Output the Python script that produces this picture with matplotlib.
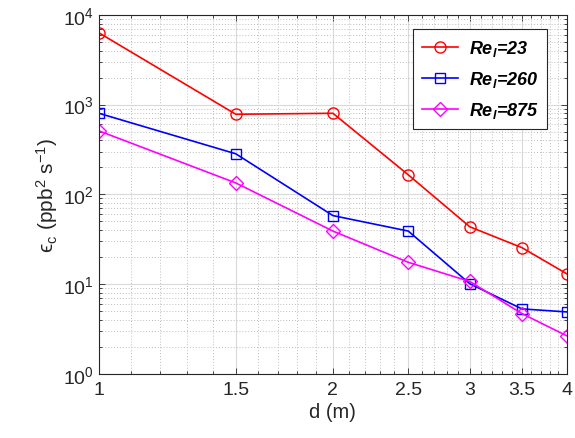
import matplotlib.pyplot as plt
from matplotlib.ticker import FixedLocator, NullFormatter, LogLocator

plt.rcParams['font.family'] = ['Liberation Sans', 'DejaVu Sans']
plt.rcParams['mathtext.fontset'] = 'custom'
plt.rcParams['mathtext.rm'] = 'Liberation Sans'
plt.rcParams['mathtext.it'] = 'Liberation Sans:italic:bold'
plt.rcParams['mathtext.bf'] = 'Liberation Sans:bold'

d = [1, 1.5, 2, 2.5, 3, 3.5, 4]
eps_23 = [6300, 780, 800, 165, 43.5, 25.5, 13]
eps_260 = [800, 283, 58, 39, 10.1, 5.3, 4.9]
eps_875 = [510, 134, 39, 17.5, 10.7, 4.7, 2.65]
labels = ["$Re_l$=23", "$Re_l$=260", "$Re_l$=875"]
xticks = [1, 1.5, 2, 2.5, 3, 3.5, 4]
xtick_labels = ["1", "1.5", "2", "2.5", "3", "3.5", "4"]


def main():
    fig = plt.figure(figsize=(5.75, 4.39), dpi=100)
    ax = fig.add_axes([0.172, 0.146, 0.814, 0.818])

    ax.plot(d, eps_23, color="red", marker="o", mfc="none", ms=8, lw=1.2,
            label=labels[0])
    ax.plot(d, eps_260, color="blue", marker="s", mfc="none", ms=6.5, lw=1.2,
            label=labels[1])
    ax.plot(d, eps_875, color="magenta", marker="D", mfc="none", ms=7, lw=1.2,
            label=labels[2])

    ax.set_xscale("log")
    ax.set_yscale("log")
    ax.set_xlim(1, 4)
    ax.set_ylim(1, 1e4)

    ax.xaxis.set_major_locator(FixedLocator(xticks))
    ax.set_xticklabels(xtick_labels)
    minors = [round(1 + 0.1 * i, 1) for i in range(31)]
    minors = [m for m in minors if m not in xticks]
    ax.xaxis.set_minor_locator(FixedLocator(minors))
    ax.xaxis.set_minor_formatter(NullFormatter())
    ax.yaxis.set_major_locator(LogLocator(base=10, numticks=10))
    ax.yaxis.set_minor_locator(LogLocator(base=10, subs=range(2, 10), numticks=10))
    ax.yaxis.set_minor_formatter(NullFormatter())

    ax.grid(True, which="major", color="#dadada", lw=0.8, ls="-")
    ax.grid(True, which="minor", color="#bdbdbd", lw=0.7, ls=(0, (1, 2)))
    ax.set_axisbelow(True)

    ax.tick_params(which="both", direction="in", top=True, right=True,
                   labelsize=14, colors="#262626", width=0.6)
    ax.tick_params(which="major", length=4)
    ax.tick_params(which="minor", length=2.5)
    ax.tick_params(axis="x", pad=5)
    for s in ax.spines.values():
        s.set_color("#262626")
        s.set_linewidth(0.8)

    ax.set_xlabel("d (m)", fontsize=14.5, color="#262626", labelpad=3)
    ax.set_ylabel(r"ϵ$_{\mathrm{c}}$ (ppb$^{\mathrm{2}}$ s$^{\mathrm{-1}}$)",
                  fontsize=15, color="#262626", labelpad=2)

    leg = ax.legend(loc="upper right", bbox_to_anchor=(0.97, 0.975),
                    prop={"weight": "bold", "style": "italic", "size": 13},
                    fancybox=False, framealpha=1, edgecolor="#262626",
                    handlelength=2.0, handletextpad=0.6, borderpad=0.5,
                    labelspacing=0.6, borderaxespad=0.3)
    leg.get_frame().set_linewidth(0.8)

    fig.savefig("out.png", dpi=100)
    plt.close(fig)


if __name__ == "__main__":
    main()
